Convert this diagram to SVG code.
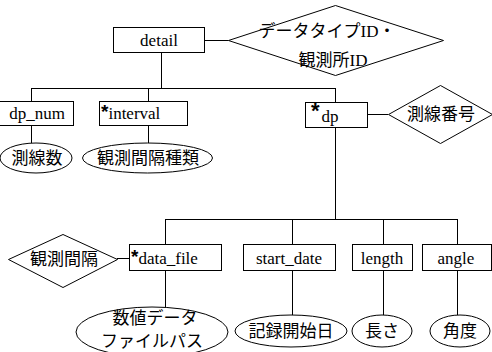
<svg xmlns="http://www.w3.org/2000/svg" width="492" height="352" viewBox="0 0 492 352">
<style>
.s{fill:#fff;stroke:#000;stroke-width:1}
.c{fill:none;stroke:#000;stroke-width:1}
text{font-family:"Liberation Serif","Noto Sans CJK JP",serif;font-size:17px;fill:#000;dominant-baseline:central}
.m{text-anchor:middle}
.a{font-family:"Liberation Sans",sans-serif;font-weight:bold}
</style>
<rect width="492" height="352" fill="#fff"/>
<g id="connectors" class="c">
<path d="M204.5 40.5H228.5"/>
<path d="M161.5 52V88.5M31.5 88.5H335.5M31.5 88V101M148.5 88V101M335.5 88V102"/>
<path d="M31.5 125V143M148.5 125V143"/>
<path d="M367 114.5H388"/>
<path d="M335.5 127V219.5M165.5 219.5H457.5M165.5 219V244M292.5 219V244M383.5 219V244M457.5 219V244"/>
<path d="M117 258.5H129"/>
<path d="M165.5 270V307M292.5 270V315M383.5 270V315M457.5 270V315"/>
</g>
<g id="detail"><rect class="s" x="113.5" y="27.5" width="91" height="25"/><text class="m" x="159" y="40">detail</text></g>
<g id="key1"><polygon class="s" points="228.5,40.5 335.5,5.5 443.5,40.5 335.5,75.5"/><text class="m" x="327" y="31">データタイプID・</text><text class="m" x="333" y="60">観測所ID</text></g>
<g id="dp_num"><rect class="s" x="-1" y="101.5" width="74.5" height="24"/><text class="m" x="37" y="113">dp_num</text></g>
<g id="sokusensu"><ellipse class="s" cx="36" cy="158" rx="36" ry="15"/><text class="m" x="37" y="158">測線数</text></g>
<g id="interval"><rect class="s" x="99.5" y="101.5" width="88" height="24"/><text x="101" y="113"><tspan class="a" font-size="19" dy="-2">*</tspan><tspan dy="2">interval</tspan></text></g>
<g id="kansokukankakushurui"><ellipse class="s" cx="147.5" cy="158" rx="65" ry="15"/><text class="m" x="148" y="158">観測間隔種類</text></g>
<g id="dp"><rect class="s" x="305.5" y="102.5" width="62" height="25"/><text x="311" y="116"><tspan class="a" font-size="22" dy="-6">*</tspan><tspan dy="6" dx="2">dp</tspan></text></g>
<g id="sokusenbango"><polygon class="s" points="388.5,114.5 440.5,85.5 492.5,114.5 440.5,143.5"/><text class="m" x="441" y="114">測線番号</text></g>
<g id="kansokukankaku"><polygon class="s" points="8.5,259.5 63,234.5 117.5,259.5 63,287.5"/><text class="m" x="64" y="259">観測間隔</text></g>
<g id="data_file"><rect class="s" x="129.5" y="244.5" width="92" height="26"/><text x="131" y="258"><tspan class="a" font-size="19" dy="-2">*</tspan><tspan dy="2">data_file</tspan></text></g>
<g id="suchi"><ellipse class="s" cx="152" cy="332" rx="76" ry="25"/><text class="m" x="155" y="318">数値データ</text><text class="m" x="152" y="341">ファイルパス</text></g>
<g id="start_date"><rect class="s" x="243.5" y="244.5" width="92" height="26"/><text class="m" x="289" y="258">start_date</text></g>
<g id="kiroku"><ellipse class="s" cx="291" cy="331" rx="56" ry="16"/><text class="m" x="291" y="331">記録開始日</text></g>
<g id="length"><rect class="s" x="352.5" y="244.5" width="60" height="26"/><text class="m" x="382" y="258">length</text></g>
<g id="nagasa"><ellipse class="s" cx="382" cy="331" rx="30" ry="16"/><text class="m" x="382" y="331">長さ</text></g>
<g id="angle"><rect class="s" x="422.5" y="244.5" width="69" height="26"/><text class="m" x="456" y="258">angle</text></g>
<g id="kakudo"><ellipse class="s" cx="460" cy="331" rx="30" ry="16"/><text class="m" x="460" y="331">角度</text></g>
</svg>
